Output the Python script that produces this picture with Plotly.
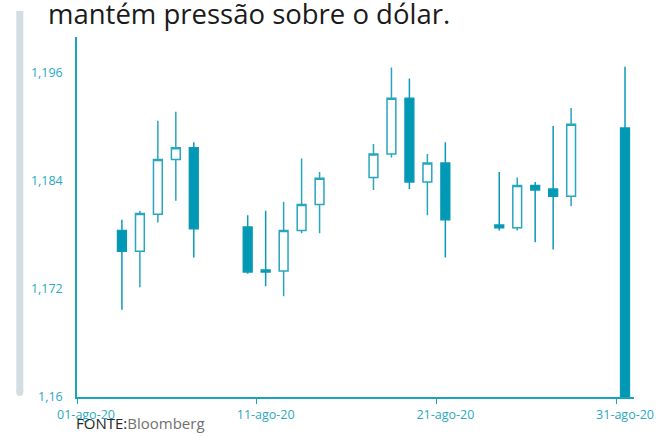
import plotly.graph_objects as go

# ---- data (EUR/USD daily candles) ----
dates = ["2020-08-03", "2020-08-04", "2020-08-05", "2020-08-06", "2020-08-07",
         "2020-08-10", "2020-08-11", "2020-08-12", "2020-08-13", "2020-08-14",
         "2020-08-17", "2020-08-18", "2020-08-19", "2020-08-20", "2020-08-21",
         "2020-08-24", "2020-08-25", "2020-08-26", "2020-08-27", "2020-08-28",
         "2020-08-31"]
open_ = [1.1785, 1.1762, 1.1803, 1.1864, 1.1877,
         1.1789, 1.1741, 1.1740, 1.1785, 1.1814,
         1.1844, 1.1870, 1.1932, 1.1839, 1.1860,
         1.1791, 1.1788, 1.1835, 1.1831, 1.1823,
         1.1899]
high = [1.1797, 1.1807, 1.1907, 1.1917, 1.1883,
        1.1802, 1.1807, 1.1817, 1.1865, 1.1850,
        1.1881, 1.1966, 1.1954, 1.1870, 1.1883,
        1.1850, 1.1844, 1.1839, 1.1901, 1.1921,
        1.1967]
low = [1.1697, 1.1722, 1.1794, 1.1818, 1.1755,
       1.1737, 1.1723, 1.1712, 1.1782, 1.1782,
       1.1830, 1.1866, 1.1831, 1.1802, 1.1755,
       1.1785, 1.1785, 1.1772, 1.1764, 1.1812,
       1.1550]
close = [1.1762, 1.1804, 1.1864, 1.1877, 1.1787,
         1.1739, 1.1739, 1.1785, 1.1814, 1.1843,
         1.1870, 1.1932, 1.1839, 1.1860, 1.1797,
         1.1788, 1.1835, 1.1830, 1.1823, 1.1903,
         1.1550]

y_tickvals = [1.16, 1.172, 1.184, 1.196]
y_ticktext = ["1,16", "1,172", "1,184", "1,196"]
x_tickvals = ["2020-08-01", "2020-08-11", "2020-08-21", "2020-08-31"]
x_ticktext = ["01-ago-20", "11-ago-20", "21-ago-20", "31-ago-20"]

title_text = "mantém pressão sobre o dólar."
source_label = "FONTE:"
source_name = "Bloomberg"

# ---- styling ----
TEAL = "#1ba3bd"
FILL = "#0099b5"
FONT = "Open Sans"

fig = go.Figure(go.Candlestick(
    x=dates, open=open_, high=high, low=low, close=close,
    xperiod=86400000, xperiodalignment="middle",
    increasing=dict(line=dict(color="#28a6bf", width=1.5), fillcolor="white"),
    decreasing=dict(line=dict(color="#0a9ab6", width=1.5), fillcolor=FILL),
    hoverinfo="skip",
))

fig.update_layout(
    width=666, height=439,
    margin=dict(l=77, r=29, t=37, b=42),
    paper_bgcolor="white", plot_bgcolor="white",
    showlegend=False,
    font=dict(family=FONT, color=TEAL),
    xaxis=dict(
        type="date",
        range=["2020-08-01", "2020-09-01"],
        rangeslider=dict(visible=False),
        tickvals=x_tickvals, ticktext=x_ticktext,
        ticks="outside", ticklen=5, tickwidth=1, tickcolor=TEAL,
        ticklabelshift=9,
        showline=True, linecolor=TEAL, linewidth=1.5,
        showgrid=False, zeroline=False,
        tickfont=dict(family=FONT, size=12.5, color="#2aa9c2"),
    ),
    yaxis=dict(
        range=[1.16, 1.2],
        tickvals=y_tickvals, ticktext=y_ticktext,
        ticks="", ticklabelstandoff=10,
        showline=True, linecolor=TEAL, linewidth=1.5,
        showgrid=False, zeroline=False,
        tickfont=dict(family=FONT, size=12.5, color="#2aa9c2"),
    ),
    annotations=[
        dict(text=title_text, xref="paper", yref="paper",
             x=(46 - 77) / 560, y=(397 + 7) / 360,
             xanchor="left", yanchor="top", showarrow=False,
             font=dict(family=FONT, size=27.5, color="#1a1a1a")),
        dict(text=f"<span style='color:#262626'>{source_label}</span>"
                  f"<span style='color:#707070'>{source_name}</span>",
             xref="paper", yref="paper",
             x=-3 / 560, y=(397 - 411) / 360,
             xanchor="left", yanchor="top", showarrow=False,
             font=dict(family=FONT, size=15)),
    ],
    shapes=[
        dict(type="rect", xref="paper", yref="paper",
             x0=(16 - 77) / 560, x1=(23 - 77) / 560,
             y0=(397 - 392) / 360, y1=(397 - 11) / 360,
             fillcolor="#d3dde2", line=dict(width=0), layer="below"),
        dict(type="circle", xref="paper", yref="paper",
             x0=(16 - 77) / 560, x1=(23 - 77) / 560,
             y0=(397 - 396) / 360, y1=(397 - 388) / 360,
             fillcolor="#d3dde2", line=dict(width=0), layer="below"),
    ],
)

fig.write_html(
    "out.html",
    config={"displayModeBar": False},
    post_script="document.body.style.margin='0';document.body.style.overflow='hidden';",
)
